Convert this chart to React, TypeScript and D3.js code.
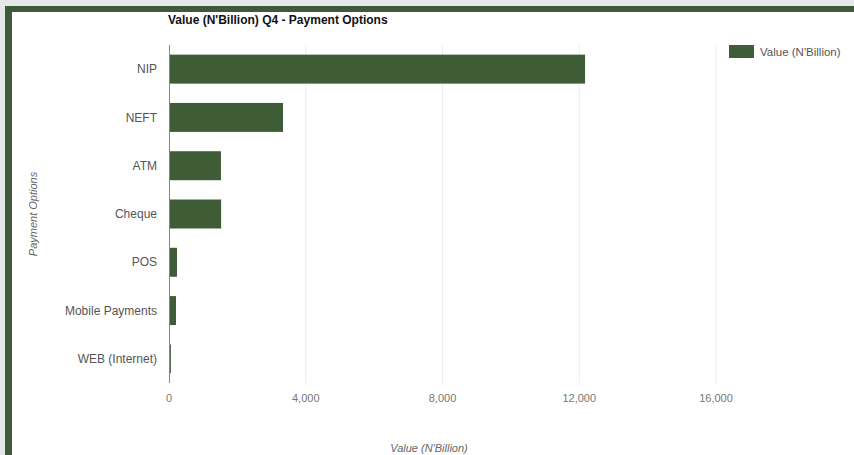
import React from "react";
import * as d3 from "d3";

const categories = ["NIP", "NEFT", "ATM", "Cheque", "POS", "Mobile Payments", "WEB (Internet)"];
const values = [12170, 3335, 1520, 1525, 234, 205, 55];
const xTicks = [0, 4000, 8000, 12000, 16000];
const chartTitle = "Value (N'Billion) Q4 - Payment Options";
const seriesName = "Value (N'Billion)";
const xTitle = "Value (N'Billion)";
const yTitle = "Payment Options";

const W = 854;
const H = 455;
const left = 169;
const top = 45;
const bottom = 383;

export default function App() {
  const x = d3.scaleLinear().domain([0, 16000]).range([left, 716]);
  const y = d3.scaleBand().domain(categories).range([top, bottom]).paddingInner(0.4).paddingOuter(0.2);
  const font = "'Liberation Sans', Arial, sans-serif";
  const barColor = "#3e5c36";
  return (
    <div style={{ position: "fixed", left: 0, top: 0 }}>
      <svg width={W} height={H} style={{ display: "block", fontFamily: font }}>
        <rect x={0} y={0} width={W} height={H} fill="#e6e7e8" />
        <rect x={5} y={6} width={W - 5} height={H - 6} fill="#3d5a3a" />
        <rect x={12} y={12} width={W - 12} height={H - 12} fill="#ffffff" />
        <text x={168} y={24} fontSize={12} fontWeight="bold" fill="#111">{chartTitle}</text>
        {xTicks.slice(1).map((t) => (
          <line key={t} x1={x(t)} x2={x(t)} y1={top} y2={bottom} stroke="#ececec" strokeWidth={1} />
        ))}
        {categories.map((c, i) => (
          <g key={c}>
            <rect x={x(0)} y={y(c)!} width={x(values[i]) - x(0)} height={y.bandwidth()} fill={barColor} />
            <text x={157} y={y(c)! + y.bandwidth() / 2} dy="0.35em" textAnchor="end" fontSize={12} fill="#555">{c}</text>
          </g>
        ))}
        <line x1={left + 0.5} x2={left + 0.5} y1={top} y2={bottom} stroke="#888" strokeWidth={1} />
        {xTicks.map((t) => (
          <text key={t} x={x(t)} y={398} dy="0.35em" textAnchor="middle" fontSize={11} fill="#777">{d3.format(",")(t)}</text>
        ))}
        <text x={429} y={448} dy="0.35em" textAnchor="middle" fontSize={11} fontStyle="italic" fill="#666">{xTitle}</text>
        <text transform={`translate(33,214) rotate(-90)`} textAnchor="middle" dy="0.35em" fontSize={11} fontStyle="italic" fill="#666">{yTitle}</text>
        <rect x={729} y={45} width={25} height={13} fill={barColor} />
        <text x={760} y={52} dy="0.35em" fontSize={11.5} fill="#555">{seriesName}</text>
      </svg>
    </div>
  );
}
